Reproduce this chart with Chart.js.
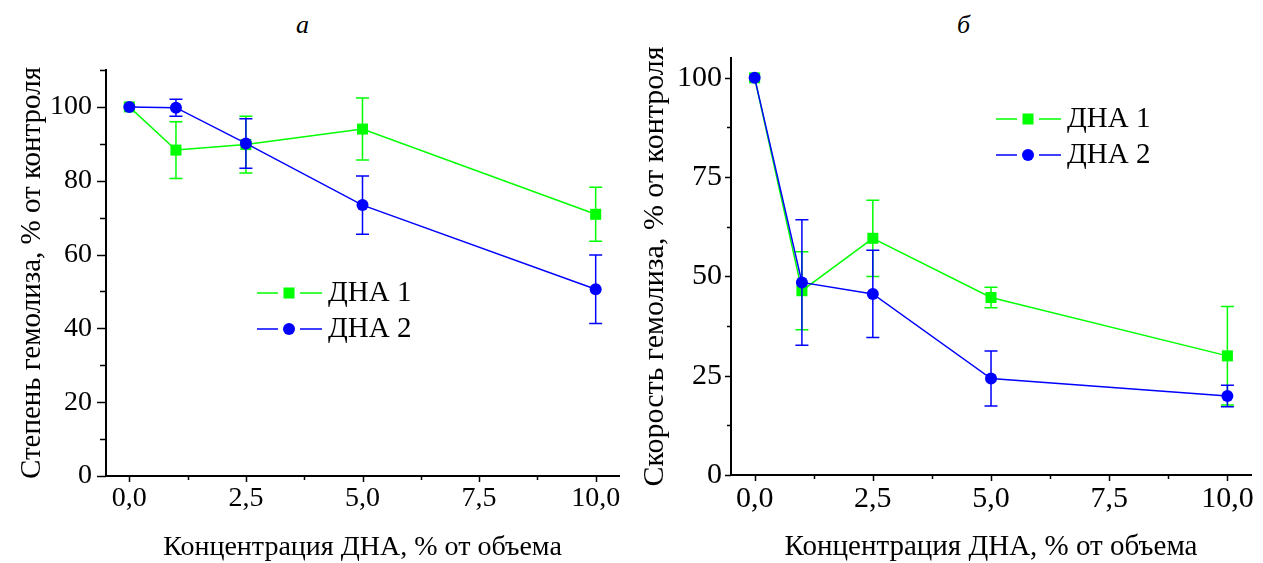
<!DOCTYPE html>
<html lang="ru">
<head>
<meta charset="utf-8">
<title>Гемолиз</title>
<script src="https://cdn.jsdelivr.net/npm/chart.js@4.4.0/dist/chart.umd.min.js"></script>
<style>
    html, body { margin: 0; padding: 0; background: #fff; }
    body { width: 1263px; height: 563px; position: relative; overflow: hidden; font-family: 'Liberation Serif', 'Times New Roman', serif; }
    canvas { position: absolute; top: 0; }
    #chartA { left: 0; }
    #chartB { left: 630px; }
    .panel-letter { position: absolute; font-style: italic; font-size: 26px; line-height: 1; color: #000; }
</style>
</head>
<body>
<div class="panel-letter" style="left:296px; top:12px;">а</div>
<div class="panel-letter" style="left:957px; top:12px;">б</div>
<canvas id="chartA" width="630" height="563"></canvas>
<canvas id="chartB" width="633" height="563"></canvas>
<script>
// концентрация ДНА, % от объема
const concentrations = [0, 1, 2.5, 5, 10];
const seriesNames = ['ДНА 1', 'ДНА 2'];

// панель а: степень гемолиза
const degreeDha1 = [100, 88.3, 89.8, 94.0, 70.9];
const degreeDha1Err = [0, 7.7, 7.7, 8.4, 7.3];
const degreeDha2 = [100, 99.8, 90.1, 73.4, 50.6];
const degreeDha2Err = [0, 2.3, 6.7, 7.9, 9.3];

// панель б: скорость гемолиза
const rateDha1 = [100, 46.4, 59.6, 44.7, 30.0];
const rateDha1Err = [0, 9.8, 9.6, 2.6, 12.4];
const rateDha2 = [100, 48.5, 45.6, 24.3, 19.9];
const rateDha2Err = [0, 15.8, 11.0, 6.9, 2.7];

// деления осей
const xTicks = [0, 1.25, 2.5, 3.75, 5, 6.25, 7.5, 8.75, 10];
const xTickLabels = { 0: '0,0', 2.5: '2,5', 5: '5,0', 7.5: '7,5', 10: '10,0' };
const degreeTicks = [0, 10, 20, 30, 40, 50, 60, 70, 80, 90, 100, 110];
const degreeTickLabels = { 0: '0', 20: '20', 40: '40', 60: '60', 80: '80', 100: '100' };
const rateTicks = [0, 12.5, 25, 37.5, 50, 62.5, 75, 87.5, 100];
const rateTickLabels = { 0: '0', 25: '25', 50: '50', 75: '75', 100: '100' };

const GREEN = '#00ff00';
const BLUE = '#0000ff';

Chart.defaults.font.family = "'Liberation Serif', 'Times New Roman', serif";
Chart.defaults.color = '#000';

// усы погрешностей
const errorBars = {
    id: 'errorBars',
    beforeDatasetDraw(chart, args) {
        const ds = chart.data.datasets[args.index];
        if (!ds.errors) return;
        const xs = chart.scales.x, ys = chart.scales.y;
        const ctx = chart.ctx;
        ctx.save();
        ctx.strokeStyle = ds.borderColor;
        ctx.lineWidth = 1.5;
        ctx.beginPath();
        ds.data.forEach((p, i) => {
            const e = ds.errors[i];
            if (!e) return;
            const px = xs.getPixelForValue(p.x);
            const top = ys.getPixelForValue(p.y + e);
            const bot = ys.getPixelForValue(p.y - e);
            ctx.moveTo(px, top); ctx.lineTo(px, bot);
            ctx.moveTo(px - 6.5, top); ctx.lineTo(px + 6.5, top);
            ctx.moveTo(px - 6.5, bot); ctx.lineTo(px + 6.5, bot);
        });
        ctx.stroke();
        ctx.restore();
    }
};

// наружные засечки, большие и малые
const tickMarks = {
    id: 'tickMarks',
    afterDraw(chart, args, opts) {
        const { ctx, chartArea } = chart;
        const xs = chart.scales.x, ys = chart.scales.y;
        ctx.save();
        ctx.strokeStyle = '#000';
        ctx.lineWidth = 1.5;
        ctx.beginPath();
        xs.ticks.forEach(t => {
            const px = Math.round(xs.getPixelForValue(t.value)) + 0.5;
            const len = t.label ? opts.xMajor : opts.xMinor;
            ctx.moveTo(px, chartArea.bottom); ctx.lineTo(px, chartArea.bottom + len);
        });
        ys.ticks.forEach(t => {
            const py = Math.round(ys.getPixelForValue(t.value)) + 0.5;
            const len = t.label ? opts.yMajor : opts.yMinor;
            ctx.moveTo(chartArea.left, py); ctx.lineTo(chartArea.left - len, py);
        });
        ctx.stroke();
        ctx.restore();
    }
};

// легенда внутри поля графика
const inlineLegend = {
    id: 'inlineLegend',
    afterDraw(chart, args, opts) {
        const ctx = chart.ctx;
        chart.data.datasets.forEach((ds, i) => {
            const x = opts.x, y = opts.y + i * opts.rowGap;
            ctx.save();
            ctx.strokeStyle = ds.borderColor;
            ctx.fillStyle = ds.backgroundColor;
            ctx.lineWidth = 1.5;
            ctx.beginPath();
            ctx.moveTo(x, y); ctx.lineTo(x + 21, y);
            ctx.moveTo(x + 43, y); ctx.lineTo(x + 65, y);
            ctx.stroke();
            Chart.helpers.drawPoint(ctx, { pointStyle: ds.pointStyle, radius: ds.pointRadius, borderWidth: 0, rotation: 0 }, x + 32, y);
            ctx.fillStyle = '#000';
            ctx.font = "29px 'Liberation Serif', 'Times New Roman', serif";
            ctx.textBaseline = 'middle';
            ctx.textAlign = 'left';
            ctx.fillText(ds.label, x + 71, y);
            ctx.restore();
        });
    }
};

function makeDataset(label, values, errors, color, style, radius, order) {
    return {
        label: label,
        order: order,
        data: concentrations.map((c, i) => ({ x: c, y: values[i] })),
        errors: errors,
        borderColor: color,
        backgroundColor: color,
        borderWidth: 1.5,
        pointStyle: style,
        pointRadius: radius,
        pointHoverRadius: radius,
        pointBorderWidth: 0,
        tension: 0,
        fill: false
    };
}

function buildOptions(cfg) {
    return {
        responsive: false,
        animation: false,
        events: [],
        layout: { padding: cfg.padding },
        plugins: {
            legend: { display: false },
            tooltip: { enabled: false },
            inlineLegend: cfg.legend,
            tickMarks: cfg.tickLen
        },
        scales: {
            x: {
                type: 'linear',
                min: -0.5,
                max: 10.5,
                afterBuildTicks: s => { s.ticks = xTicks.map(v => ({ value: v })); },
                afterFit: s => { s.height = cfg.xHeight; },
                ticks: { autoSkip: false, maxRotation: 0, padding: cfg.xPad, font: { size: cfg.tickFont, lineHeight: 1 }, callback: v => xTickLabels[v] ?? '' },
                grid: { display: false, drawTicks: false },
                border: { display: true, color: '#000', width: 2 },
                title: { display: true, text: 'Концентрация ДНА, % от объема', font: { size: cfg.xTitleFont, lineHeight: 1 }, padding: { top: 0, bottom: 1 } }
            },
            y: {
                type: 'linear',
                min: 0,
                max: cfg.yMax,
                afterBuildTicks: s => { s.ticks = cfg.yTicks.map(v => ({ value: v })); },
                afterFit: s => { s.width = cfg.yWidth; },
                ticks: { autoSkip: false, padding: cfg.yPad, font: { size: cfg.tickFont, lineHeight: 1 }, callback: v => cfg.yLabels[v] ?? '' },
                grid: { display: false, drawTicks: false },
                border: { display: true, color: '#000', width: 2 },
                title: { display: true, text: cfg.yTitle, font: { size: cfg.yTitleFont, lineHeight: 1 }, padding: { top: cfg.yTitlePad, bottom: 0 } }
            }
        }
    };
}

new Chart(document.getElementById('chartA'), {
    type: 'line',
    data: {
        datasets: [
            makeDataset(seriesNames[0], degreeDha1, degreeDha1Err, GREEN, 'rect', 7.8, 1),
            makeDataset(seriesNames[1], degreeDha2, degreeDha2Err, BLUE, 'circle', 6, 0)
        ]
    },
    options: buildOptions({
        padding: { top: 70, right: 11, bottom: 0, left: 0 },
        xHeight: 87, yWidth: 106, xPad: 9, yPad: 14,
        yMax: 110, yTicks: degreeTicks, yLabels: degreeTickLabels,
        yTitle: 'Степень гемолиза, % от контроля', yTitleFont: 29, yTitlePad: 18,
        xTitleFont: 28,
        tickFont: 28,
        legend: { x: 257, y: 293, rowGap: 36 },
        tickLen: { xMajor: 6, xMinor: 4, yMajor: 9, yMinor: 6 }
    }),
    plugins: [errorBars, tickMarks, inlineLegend]
});

new Chart(document.getElementById('chartB'), {
    type: 'line',
    data: {
        datasets: [
            makeDataset(seriesNames[0], rateDha1, rateDha1Err, GREEN, 'rect', 7.8, 1),
            makeDataset(seriesNames[1], rateDha2, rateDha2Err, BLUE, 'circle', 6, 0)
        ]
    },
    options: buildOptions({
        padding: { top: 58, right: 5, bottom: 0, left: 0 },
        xHeight: 88, yWidth: 101, xPad: 9, yPad: 9,
        yMax: 105, yTicks: rateTicks, yLabels: rateTickLabels,
        yTitle: 'Скорость гемолиза, % от контроля', yTitleFont: 30, yTitlePad: 10,
        xTitleFont: 29,
        tickFont: 30,
        legend: { x: 366, y: 119, rowGap: 36 },
        tickLen: { xMajor: 6, xMinor: 4, yMajor: 6, yMinor: 4 }
    }),
    plugins: [errorBars, tickMarks, inlineLegend]
});
</script>
</body>
</html>
